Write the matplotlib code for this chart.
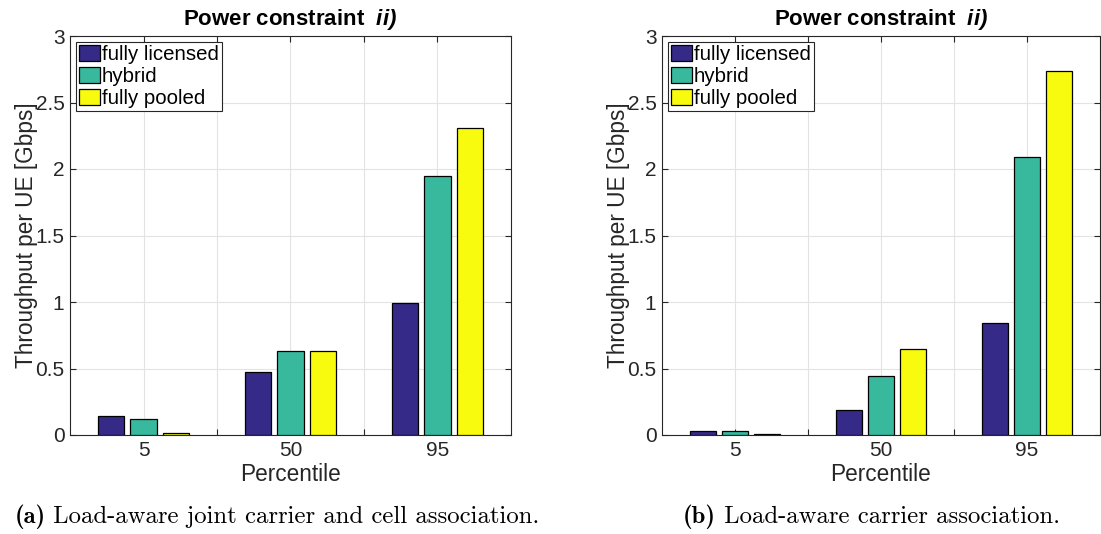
import numpy as np
import matplotlib
matplotlib.use("Agg")
import matplotlib.pyplot as plt

percentiles = ["5", "50", "95"]
series = ["fully licensed", "hybrid", "fully pooled"]
colors = ["#352a87", "#38b99e", "#f9fb0e"]

# (a) load-aware joint carrier and cell association
vals_a = {
    "fully licensed": [0.145, 0.475, 0.995],
    "hybrid": [0.12, 0.63, 1.945],
    "fully pooled": [0.012, 0.63, 2.31],
}
# (b) load-aware carrier association
vals_b = {
    "fully licensed": [0.028, 0.19, 0.84],
    "hybrid": [0.028, 0.44, 2.09],
    "fully pooled": [0.004, 0.65, 2.74],
}

plt.rcParams["font.family"] = ["Liberation Sans", "DejaVu Sans"]
plt.rcParams["mathtext.fontset"] = "custom"
plt.rcParams["mathtext.bf"] = "Liberation Sans:bold:italic"

W, H = 1101, 534
fig = plt.figure(figsize=(W / 100, H / 100), dpi=100)
INK = "#262626"


def panel(rect, vals):
    ax = fig.add_axes(rect)
    x = np.arange(1, len(percentiles) + 1)
    for k, s in enumerate(series):
        ax.bar(x + (k - 1) * 0.22, vals[s], width=0.177, color=colors[k],
               edgecolor="black", linewidth=0.9, label=s, zorder=3)
    ax.set_xlim(0.5, 3.5)
    ax.set_ylim(0, 3)
    ax.set_xticks([1, 1.5, 2, 2.5, 3])
    ax.set_xticklabels(["5", "", "50", "", "95"])
    ax.set_yticks(np.arange(0, 3.01, 0.5))
    ax.set_yticklabels(["0", "0.5", "1", "1.5", "2", "2.5", "3"])
    ax.tick_params(direction="in", top=True, right=True, labelsize=15,
                   colors=INK, length=4, width=0.8, pad=4)
    ax.grid(True, color="#e3e3e3", linewidth=0.8, zorder=0)
    ax.set_axisbelow(True)
    for sp in ax.spines.values():
        sp.set_color(INK)
        sp.set_linewidth(0.8)
    ax.set_xlabel("Percentile", fontsize=16.3, color=INK, labelpad=2.5)
    ax.set_ylabel("Throughput per UE [Gbps]", fontsize=16.3, color=INK, labelpad=-2)
    ax.set_title(r"Power constraint  $\mathbf{ii)}$", fontsize=16, fontweight="bold", pad=8)
    leg = ax.legend(loc="upper left", fontsize=14.7, handlelength=1.0, handleheight=0.8,
                    handletextpad=0.1, borderpad=0.15, labelspacing=0.15,
                    borderaxespad=0.3, fancybox=False, framealpha=1)
    leg.get_frame().set_edgecolor(INK)
    leg.get_frame().set_linewidth(0.8)
    return ax


ax1 = panel([70 / W, 99 / H, 441 / W, 399 / H], vals_a)
ax2 = panel([662 / W, 99 / H, 438 / W, 399 / H], vals_b)

# sub-captions in Computer Modern, centred under each panel
cap_y = 1 - 517 / H
fig.canvas.draw()
r = fig.canvas.get_renderer()
for xc, lab, txt in [(277, "(a)", " Load-aware joint carrier and cell association."),
                     (871, "(b)", " Load-aware carrier association.")]:
    t1 = fig.text(0, cap_y, lab, fontsize=17.8, family="cmb10", va="center")
    t2 = fig.text(0, cap_y, txt, fontsize=17.8, family="cmr10", va="center")
    w1 = t1.get_window_extent(r).width
    w2 = t2.get_window_extent(r).width
    x0 = xc - (w1 + w2) / 2
    t1.set_x(x0 / W)
    t2.set_x((x0 + w1) / W)

fig.savefig("out.png", dpi=100)
